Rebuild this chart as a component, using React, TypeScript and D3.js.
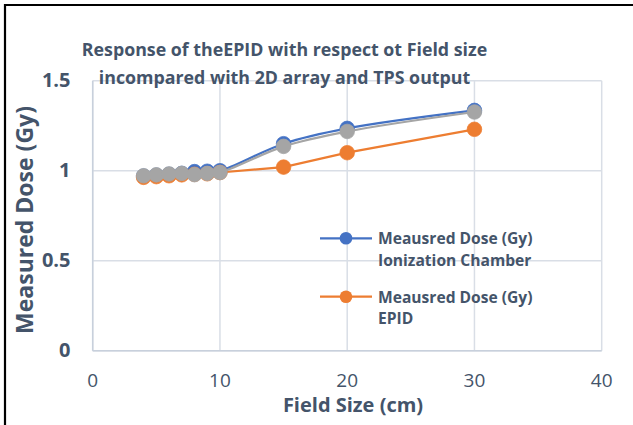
import React from "react";
import * as d3 from "d3";

const fieldSizes = [4, 5, 6, 7, 8, 9, 10, 15, 20, 30];
const ionChamber = [0.97, 0.975, 0.98, 0.985, 0.995, 0.997, 1.0, 1.15, 1.235, 1.335];
const epid = [0.963, 0.967, 0.972, 0.977, 0.98, 0.983, 0.99, 1.02, 1.1, 1.23];
const array2d = [0.972, 0.977, 0.982, 0.985, 0.978, 0.985, 0.99, 1.135, 1.218, 1.326];
const xTicks = [0, 10, 20, 30, 40];
const yTicks = [0, 0.5, 1, 1.5];
const yTickLabels = ["0", "0.5", "1", "1.5"];
const titleLines = [
  "Response of theEPID with respect ot Field size",
  "incompared with 2D array and TPS output",
];
const legendItems = [
  { lines: ["Meausred Dose (Gy)", "Ionization Chamber"], color: "#4472C4" },
  { lines: ["Meausred Dose (Gy)", "EPID"], color: "#ED7D31" },
];

const W = 633;
const H = 425;
const FONT = "'Open Sans', 'Noto Sans', sans-serif";
const TXT = "#44546A";
const GRID = "#D9DEE6";

export default function App() {
  const x = d3.scaleLinear().domain([0, 40]).range([92.7, 601.7]);
  const y = d3.scaleLinear().domain([0, 1.5]).range([350.7, 80.7]);

  const series = [
    { vals: ionChamber, color: "#4472C4", curve: d3.curveCatmullRom.alpha(0.5) },
    { vals: epid, color: "#ED7D31", curve: d3.curveLinear },
    { vals: array2d, color: "#A5A5A5", curve: d3.curveCatmullRom.alpha(0.5) },
  ];

  return (
    <svg
      width={W}
      height={H}
      style={{ position: "absolute", left: 0, top: 0, background: "#fff" }}
      fontFamily={FONT}
    >
      <rect x={0} y={0} width={W} height={H} fill="#fff" />
      {/* gridlines */}
      {yTicks.map((t) => (
        <line key={"gy" + t} x1={x(0)} x2={x(40)} y1={y(t)} y2={y(t)} stroke={GRID} strokeWidth={1.5} />
      ))}
      {xTicks.map((t) => (
        <line key={"gx" + t} x1={x(t)} x2={x(t)} y1={y(0)} y2={y(1.5)} stroke={GRID} strokeWidth={1.5} />
      ))}
      <line x1={x(0)} x2={x(40)} y1={y(0)} y2={y(0)} stroke="#C8D0DC" strokeWidth={1.5} />
      <line x1={x(0)} x2={x(0)} y1={y(0)} y2={y(1.5)} stroke="#C8D0DC" strokeWidth={1.5} />

      {/* tick labels */}
      {yTicks.map((t, i) => (
        <text key={"yl" + t} x={70.5} y={y(t) + 6.5} textAnchor="end" fontSize={20} fontWeight="bold" fill={TXT}>
          {yTickLabels[i]}
        </text>
      ))}
      {xTicks.map((t) => (
        <text key={"xl" + t} x={x(t)} y={387} textAnchor="middle" fontSize={19} fill={TXT}>
          {t}
        </text>
      ))}

      {/* axis titles */}
      <text x={353} y={412} textAnchor="middle" fontSize={20} fontWeight="bold" fill={TXT}>
        Field Size (cm)
      </text>
      <text
        transform={`translate(33,220) rotate(-90)`}
        textAnchor="middle"
        fontSize={23}
        fontWeight="bold"
        fill={TXT}
      >
        Measured Dose (Gy)
      </text>

      {/* series */}
      {series.map((s, si) => {
        const pts: [number, number][] = fieldSizes.map((f, i) => [x(f), y(s.vals[i])]);
        const path = d3.line().curve(s.curve)(pts) || "";
        return (
          <g key={"s" + si}>
            <path d={path} fill="none" stroke={s.color} strokeWidth={2.2} />
            {pts.map((p, i) => (
              <circle key={i} cx={p[0]} cy={p[1]} r={7.3} fill={s.color} stroke={s.color} strokeWidth={0.75} />
            ))}
          </g>
        );
      })}

      {/* title */}
      {titleLines.map((l, i) => (
        <text key={"t" + i} x={284.5} y={56 + i * 28} textAnchor="middle" fontSize={17.8} fontWeight="bold" fill={TXT}>
          {l}
        </text>
      ))}

      {/* legend */}
      {legendItems.map((it, i) => {
        const cy = i === 0 ? 238.3 : 296.7;
        return (
          <g key={"lg" + i}>
            <line x1={320} x2={372} y1={cy} y2={cy} stroke={it.color} strokeWidth={2.2} />
            <circle cx={346} cy={cy} r={6.3} fill={it.color} />
            {it.lines.map((ln, j) => (
              <text key={j} x={378} y={cy + 6 + j * 21.5} fontSize={15.6} fontWeight="bold" fill={TXT}>
                {ln}
              </text>
            ))}
          </g>
        );
      })}

      {/* outer border */}
      <path d={`M5,${H + 2} L5,5 L${W + 2},5`} fill="none" stroke="#000" strokeWidth={2.2} />
    </svg>
  );
}
